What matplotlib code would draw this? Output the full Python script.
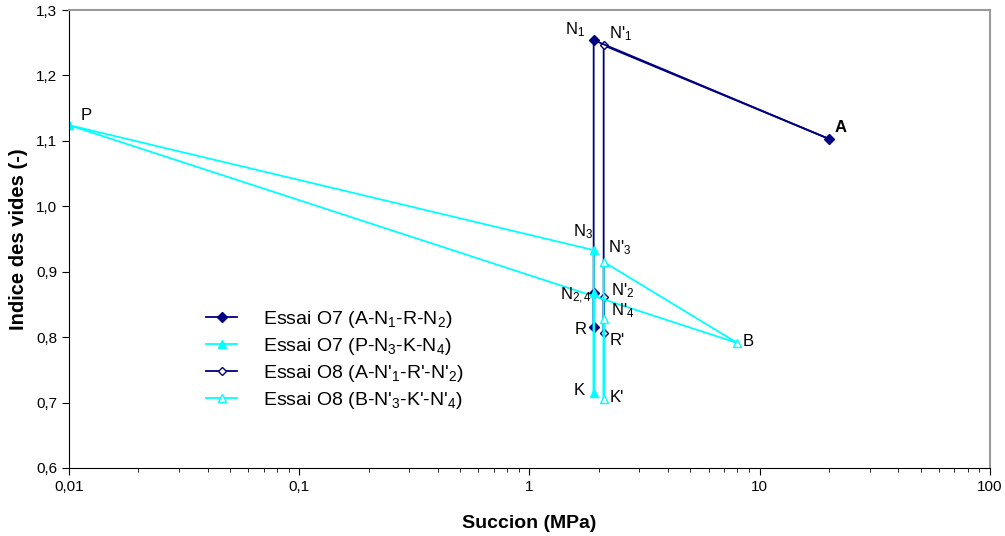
import numpy as np
import matplotlib.pyplot as plt
from matplotlib.ticker import FixedLocator, LogLocator, NullFormatter

plt.rcParams['font.family'] = ['Liberation Sans', 'DejaVu Sans']
plt.rcParams['mathtext.fontset'] = 'custom'
plt.rcParams['mathtext.rm'] = 'Liberation Sans'
plt.rcParams['mathtext.it'] = 'Liberation Sans'

# Essai O7 (A-N1-R-N2)
s1_x = [20, 1.9, 1.9, 1.9]
s1_y = [1.103, 1.254, 0.816, 0.867]
# Essai O7 (P-N3-K-N4)
s2_x = [0.01, 1.9, 1.9, 1.9]
s2_y = [1.124, 0.933, 0.715, 0.867]
# Essai O8 (A-N'1-R'-N'2)
s3_x = [20, 2.1, 2.1, 2.1]
s3_y = [1.103, 1.246, 0.806, 0.861]
# Essai O8 (B-N'3-K'-N'4), path from P through B
s4_x = [0.01, 8.0, 2.1, 2.1, 2.1]
s4_y = [1.124, 0.791, 0.915, 0.705, 0.828]

labels = ['Essai O7 (A-N$_1$-R-N$_2$)', 'Essai O7 (P-N$_3$-K-N$_4$)',
          "Essai O8 (A-N'$_1$-R'-N'$_2$)", "Essai O8 (B-N'$_3$-K'-N'$_4$)"]

# point names: (text, x, y, dx px, dy px, ha, bold)
names = [
    ('N$_1$', 1.9, 1.254, -9, 10, 'right', False),
    ("N'$_1$", 2.1, 1.246, 5, 12, 'left', False),
    ('A', 20, 1.103, 6, 11, 'left', True),
    ('P', 0.01, 1.124, 12, 10, 'left', False),
    ('N$_3$', 1.9, 0.933, -1, 18, 'right', False),
    ("N'$_3$", 2.1, 0.915, 4, 14, 'left', False),
    ('N$_{2,4}$', 1.9, 0.867, -2, -3, 'right', False),
    ("N'$_2$", 2.1, 0.861, 7, 7, 'left', False),
    ("N'$_4$", 2.1, 0.828, 7, 8, 'left', False),
    ('R', 1.9, 0.816, -7, -3, 'right', False),
    ("R'", 2.1, 0.806, 6, -7, 'left', False),
    ('K', 1.9, 0.715, -9, 2, 'right', False),
    ("K'", 2.1, 0.705, 6, 2, 'left', False),
    ('B', 8.0, 0.791, 5, 2, 'left', False),
]

navy = '#000080'
cyan = '#00FFFF'

fig = plt.figure(figsize=(10.05, 5.36), dpi=100)
ax = fig.add_axes([0.0687, 0.1269, 0.9163, 0.8544])

l3, = ax.plot(s3_x, s3_y, color=navy, lw=1.3, marker='D', ms=4.5, mfc='white', mec=navy, mew=1)
l1, = ax.plot(s1_x, s1_y, color=navy, lw=1.3, marker='D', ms=4.7, mfc=navy, mec=navy)
l4, = ax.plot(s4_x, s4_y, color=cyan, lw=1.3, marker='^', ms=6, mfc='white', mec=cyan, mew=1)
l2, = ax.plot(s2_x, s2_y, color=cyan, lw=1.3, marker='^', ms=6, mfc=cyan, mec=cyan)

for t, x, y, dx, dy, ha, bold in names:
    ax.annotate(t, (x, y), xytext=(dx, dy), textcoords='offset pixels',
                ha=ha, va='center', fontsize=12,
                fontweight='bold' if bold else 'normal')

ax.set_xscale('log')
ax.set_xlim(0.01, 100)
ax.set_ylim(0.6, 1.3)
ax.xaxis.set_major_locator(FixedLocator([0.01, 0.1, 1, 10, 100]))
ax.xaxis.set_minor_locator(LogLocator(base=10, subs=np.arange(2, 10)))
ax.xaxis.set_minor_formatter(NullFormatter())
ax.set_xticklabels(['0,01', '0,1', '1', '10', '100'])
yt = np.round(np.arange(0.6, 1.31, 0.1), 1)
ax.set_yticks(yt)
ax.set_yticklabels([f'{v:.1f}'.replace('.', ',') for v in yt])
ax.tick_params(which='major', direction='out', length=5, labelsize=11)
ax.tick_params(which='minor', direction='out', length=3)

for s in ['top', 'right']:
    ax.spines[s].set_color('#999999')
    ax.spines[s].set_linewidth(1.5)
for s in ['left', 'bottom']:
    ax.spines[s].set_color('black')

ax.set_xlabel('Succion (MPa)', fontsize=14, fontweight='bold', labelpad=15)
ax.set_ylabel('Indice des vides (-)', fontsize=14.5, fontweight='bold', labelpad=6)

ax.legend([l1, l2, l3, l4], labels, loc='upper left',
          bbox_to_anchor=(0.13, 0.385), frameon=False, fontsize=14,
          handlelength=1.6, handletextpad=1.3, labelspacing=0.3)

fig.savefig('out.png', dpi=100)
